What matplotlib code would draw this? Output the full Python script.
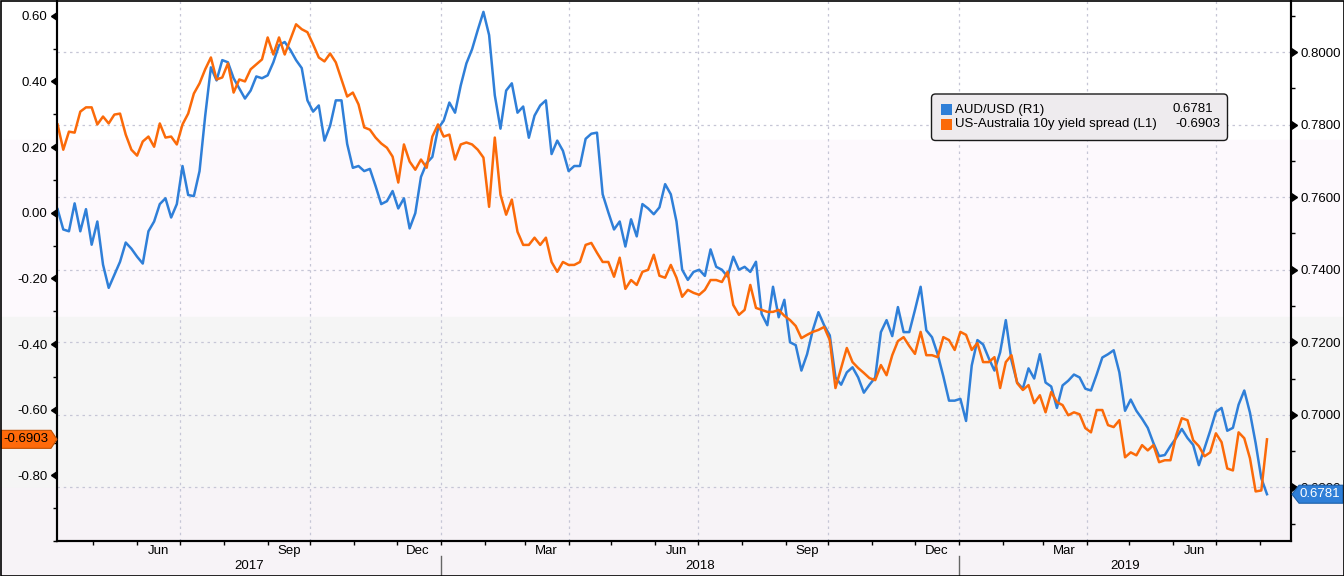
import numpy as np
import pandas as pd
import matplotlib
matplotlib.use("Agg")
import matplotlib.pyplot as plt
import matplotlib.dates as mdates
from matplotlib.patches import Rectangle, FancyBboxPatch, Polygon
from matplotlib.ticker import MultipleLocator, FixedLocator, FormatStrFormatter, NullFormatter
from matplotlib.transforms import IdentityTransform

plt.rcParams['font.family'] = ['Liberation Sans', 'DejaVu Sans']

# sampled every 4 days from the picture
dates = pd.date_range('2017-04-06', periods=214, freq='4D')

# US-Australia 10y yield spread (left axis)
spread = [
    0.269, 0.192, 0.247, 0.244, 0.308, 0.321, 0.321, 0.269, 0.293, 0.272,
    0.299, 0.302, 0.238, 0.192, 0.174, 0.217, 0.232, 0.201, 0.272, 0.229,
    0.232, 0.208, 0.269, 0.302, 0.363, 0.394, 0.437, 0.473, 0.406, 0.412,
    0.455, 0.366, 0.406, 0.400, 0.437, 0.452, 0.467, 0.534, 0.482, 0.534,
    0.482, 0.528, 0.574, 0.559, 0.550, 0.513, 0.473, 0.461, 0.485, 0.458,
    0.406, 0.354, 0.366, 0.330, 0.260, 0.253, 0.229, 0.211, 0.198, 0.171,
    0.092, 0.208, 0.156, 0.131, 0.162, 0.137, 0.232, 0.269, 0.232, 0.238,
    0.162, 0.208, 0.214, 0.208, 0.192, 0.168, 0.018, 0.229, 0.055, -0.006,
    0.040, -0.058, -0.098, -0.098, -0.076, -0.098, -0.076, -0.150, -0.180, -0.150,
    -0.159, -0.159, -0.150, -0.098, -0.092, -0.122, -0.150, -0.150, -0.195, -0.137,
    -0.232, -0.205, -0.220, -0.180, -0.174, -0.128, -0.192, -0.198, -0.159, -0.198,
    -0.256, -0.235, -0.244, -0.250, -0.235, -0.205, -0.205, -0.211, -0.180, -0.281,
    -0.311, -0.296, -0.220, -0.290, -0.296, -0.302, -0.302, -0.296, -0.314, -0.327,
    -0.345, -0.382, -0.372, -0.363, -0.357, -0.348, -0.388, -0.534, -0.473, -0.412,
    -0.455, -0.473, -0.488, -0.504, -0.510, -0.464, -0.495, -0.434, -0.391, -0.379,
    -0.406, -0.430, -0.363, -0.434, -0.434, -0.440, -0.379, -0.388, -0.418, -0.363,
    -0.372, -0.418, -0.397, -0.455, -0.455, -0.440, -0.534, -0.455, -0.434, -0.519,
    -0.540, -0.525, -0.580, -0.556, -0.608, -0.546, -0.577, -0.586, -0.617, -0.608,
    -0.614, -0.656, -0.669, -0.601, -0.601, -0.647, -0.653, -0.632, -0.745, -0.730,
    -0.739, -0.708, -0.724, -0.708, -0.760, -0.754, -0.754, -0.678, -0.626, -0.632,
    -0.693, -0.711, -0.742, -0.730, -0.672, -0.699, -0.779, -0.785, -0.669, -0.687,
    -0.748, -0.849, -0.846, -0.6903]

# AUD/USD (right axis)
aud_usd = [
    0.7567, 0.7511, 0.7506, 0.7583, 0.7506, 0.7567, 0.7469, 0.7533, 0.7414, 0.7350,
    0.7386, 0.7422, 0.7475, 0.7458, 0.7436, 0.7417, 0.7506, 0.7533, 0.7581, 0.7597,
    0.7544, 0.7581, 0.7686, 0.7606, 0.7603, 0.7672, 0.7825, 0.7958, 0.7922, 0.7978,
    0.7972, 0.7928, 0.7900, 0.7872, 0.7894, 0.7933, 0.7928, 0.7936, 0.7972, 0.8019,
    0.8028, 0.8006, 0.7978, 0.7956, 0.7867, 0.7836, 0.7853, 0.7756, 0.7797, 0.7867,
    0.7867, 0.7747, 0.7681, 0.7686, 0.7672, 0.7678, 0.7631, 0.7581, 0.7589, 0.7617,
    0.7569, 0.7597, 0.7514, 0.7556, 0.7656, 0.7694, 0.7711, 0.7789, 0.7811, 0.7861,
    0.7833, 0.7908, 0.7969, 0.8008, 0.8061, 0.8111, 0.8047, 0.7881, 0.7789, 0.7894,
    0.7914, 0.7833, 0.7850, 0.7764, 0.7825, 0.7853, 0.7867, 0.7719, 0.7756, 0.7728,
    0.7672, 0.7686, 0.7686, 0.7761, 0.7775, 0.7778, 0.7608, 0.7558, 0.7511, 0.7533,
    0.7464, 0.7539, 0.7492, 0.7581, 0.7569, 0.7553, 0.7572, 0.7636, 0.7608, 0.7533,
    0.7400, 0.7372, 0.7394, 0.7400, 0.7383, 0.7456, 0.7408, 0.7400, 0.7381, 0.7436,
    0.7400, 0.7408, 0.7394, 0.7422, 0.7278, 0.7247, 0.7353, 0.7269, 0.7317, 0.7200,
    0.7192, 0.7122, 0.7167, 0.7233, 0.7283, 0.7247, 0.7219, 0.7103, 0.7083, 0.7117,
    0.7131, 0.7103, 0.7061, 0.7083, 0.7103, 0.7228, 0.7261, 0.7217, 0.7297, 0.7228,
    0.7228, 0.7289, 0.7353, 0.7233, 0.7214, 0.7167, 0.7106, 0.7039, 0.7039, 0.7044,
    0.6983, 0.7136, 0.7206, 0.7194, 0.7156, 0.7122, 0.7172, 0.7261, 0.7150, 0.7089,
    0.7072, 0.7128, 0.7100, 0.7167, 0.7089, 0.7078, 0.7019, 0.7081, 0.7094, 0.7111,
    0.7103, 0.7072, 0.7067, 0.7111, 0.7158, 0.7167, 0.7178, 0.7117, 0.7011, 0.7042,
    0.7011, 0.6989, 0.6964, 0.6922, 0.6886, 0.6889, 0.6914, 0.6936, 0.6961, 0.6936,
    0.6917, 0.6861, 0.6908, 0.6956, 0.7008, 0.7019, 0.6956, 0.6964, 0.7028, 0.7067,
    0.7006, 0.6922, 0.6825, 0.6781]

left_ticks = [-0.8, -0.6, -0.4, -0.2, 0.0, 0.2, 0.4, 0.6]
right_ticks = [0.68, 0.70, 0.72, 0.74, 0.76, 0.78, 0.80]
years = ['2017', '2018', '2019']
year_starts = ['2018-01-01', '2019-01-01']

BLUE = '#2f7fd8'
ORANGE = '#fb6a09'
GRID = '#c6c6d6'
W, H = 1344, 576
FS = 9.5

fig = plt.figure(figsize=(W / 100, H / 100), dpi=100)
fig.patch.set_facecolor('white')

# bloomberg style shaded bands across whole picture
for top, bot, c in [(0, 140, '#ffffff'), (140, 317, '#fdf9fd'),
                    (317, 488, '#f5f5f5'), (488, 576, '#f7f3f7')]:
    fig.add_artist(Rectangle((0, 1 - bot / H), 1, (bot - top) / H,
                             transform=fig.transFigure, color=c, zorder=-10))

ax = fig.add_axes([57 / W, 35 / H, 1234 / W, 540 / H])
ax2 = ax.twinx()
ax.set_zorder(2)
ax2.set_zorder(1)
ax.patch.set_visible(False)
ax2.patch.set_visible(False)

# gridlines (on right axis, under the lines)
ax2.set_axisbelow(True)
ax2.yaxis.grid(True, which='major', color=GRID, lw=0.9, ls=(0, (2, 3)))
for q in pd.date_range('2017-07-01', '2019-07-01', freq='QS'):
    ax2.axvline(q, color=GRID, lw=0.9, ls=(0, (2, 3)), zorder=0.5)

ax2.plot(dates, aud_usd, color=BLUE, lw=1.8, zorder=2)
ax.plot(dates, spread, color=ORANGE, lw=1.8, zorder=2)

ax.set_xlim(pd.Timestamp('2017-04-05 14:00'), pd.Timestamp('2019-08-22 22:00'))
ax.set_ylim(-1.0, 0.645)
ax2.set_ylim(0.6652, 0.8141)

for a in (ax, ax2):
    for s in a.spines.values():
        s.set_color('black')
        s.set_linewidth(1.5)
    a.spines['top'].set_visible(False)

# left axis
ax.yaxis.set_major_locator(FixedLocator(left_ticks))
ax.yaxis.set_major_formatter(FormatStrFormatter('%.2f'))
ax.yaxis.set_minor_locator(MultipleLocator(0.1))
ax.tick_params(axis='y', which='major', length=0, pad=7, labelsize=FS)
ax.tick_params(axis='y', which='minor', length=3, width=1)
ax.plot(np.zeros(len(left_ticks)), left_ticks, transform=ax.get_yaxis_transform(),
        ls='none', marker=8, ms=6, color='black', clip_on=False, zorder=5)

# right axis
ax2.yaxis.set_major_locator(FixedLocator(right_ticks))
ax2.yaxis.set_major_formatter(FormatStrFormatter('%.4f'))
ax2.yaxis.set_minor_locator(MultipleLocator(0.01))
ax2.tick_params(axis='y', which='major', length=0, pad=7, labelsize=FS)
ax2.tick_params(axis='y', which='minor', length=3, width=1)
ax2.plot(np.ones(len(right_ticks)), right_ticks, transform=ax2.get_yaxis_transform(),
         ls='none', marker=9, ms=6, color='black', clip_on=False, zorder=5)

# x axis: month ticks, quarter month names mid-month
ax.xaxis.set_major_locator(mdates.MonthLocator())
ax.xaxis.set_major_formatter(NullFormatter())
ax.xaxis.set_minor_locator(mdates.MonthLocator(bymonth=[3, 6, 9, 12], bymonthday=16))
ax.xaxis.set_minor_formatter(mdates.DateFormatter('%b'))
ax.tick_params(axis='x', which='major', length=3, width=1)
ax.tick_params(axis='x', which='minor', length=0, pad=3, labelsize=FS)

x0, x1 = ax.get_xlim()
bounds = [x0] + [mdates.date2num(pd.Timestamp(d)) for d in year_starts] + [x1]
for k, yr in enumerate(years):
    ax.text((bounds[k] + bounds[k + 1]) / 2, -0.0463, yr, transform=ax.get_xaxis_transform(),
            ha='center', va='center', fontsize=FS)
for b in bounds[1:3]:
    ax.plot([b, b], [-0.028, -0.08], transform=ax.get_xaxis_transform(),
            color='#666666', lw=1, clip_on=False)

# last value tags
yl = ax.get_yaxis_transform().transform((0, spread[-1]))[1]
fig.add_artist(Polygon([(1, yl + 9), (51, yl + 9), (57, yl), (51, yl - 9), (1, yl - 9)],
                       closed=True, transform=IdentityTransform(), facecolor='#ff6a0a',
                       edgecolor='#c04f00', lw=0.8, zorder=10))
fig.text(26 / W, yl / H, '%.4f' % spread[-1], ha='center', va='center',
         fontsize=FS, color='black', zorder=11)

yr_ = ax2.get_yaxis_transform().transform((1, aud_usd[-1]))[1]
fig.add_artist(Polygon([(1343, yr_ + 9), (1299, yr_ + 9), (1292, yr_), (1299, yr_ - 9), (1343, yr_ - 9)],
                       closed=True, transform=IdentityTransform(), facecolor=BLUE,
                       edgecolor='#1d5fa8', lw=0.8, zorder=10))
fig.text(1320 / W, yr_ / H, '%.4f' % aud_usd[-1], ha='center', va='center',
         fontsize=FS, color='white', zorder=11)

# legend box
fig.add_artist(FancyBboxPatch((931.5, H - 140.5), 296, 46.5, boxstyle='round,pad=0,rounding_size=4',
                              transform=IdentityTransform(), facecolor='#eeebee',
                              edgecolor='#1a1a1a', lw=1, zorder=10))
rows = [('AUD/USD (R1)', '%.4f' % aud_usd[-1], BLUE, 109.5, 1213.5),
        ('US-Australia 10y yield spread (L1)', '%.4f' % spread[-1], ORANGE, 124.0, 1220.5)]
for name, val, col, yc, xr in rows:
    fig.add_artist(Rectangle((941, H - yc - 5.5), 11, 11, transform=IdentityTransform(),
                             facecolor=col, edgecolor='none', zorder=11))
    fig.text(955 / W, (H - yc) / H, name, ha='left', va='center', fontsize=FS, zorder=12)
    fig.text(xr / W, (H - yc) / H, val, ha='right', va='center', fontsize=FS, zorder=12)

# outer frame
fig.add_artist(Rectangle((0.5, 0.5), W - 1, H - 1, transform=IdentityTransform(),
                         fill=False, edgecolor='black', lw=1.2, zorder=20))

fig.savefig('out.png', dpi=100, facecolor=fig.get_facecolor())
